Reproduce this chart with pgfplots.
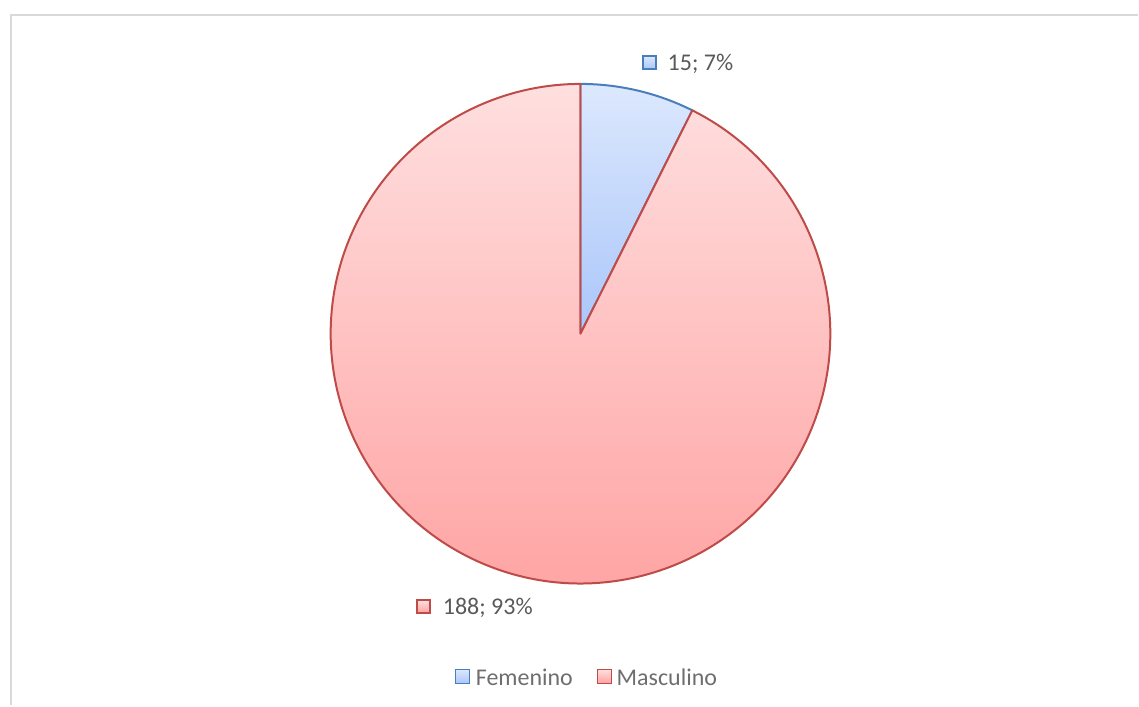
\documentclass[border=0pt]{standalone}
\usepackage{pgfplots}
\pgfplotsset{compat=1.18}
\usepackage{pgfplotstable}
\usepackage{fontspec}
\setmainfont{Carlito}

\definecolor{femline}{HTML}{4A7EBB}
\definecolor{femtop}{HTML}{DCE8FD}
\definecolor{femmid}{HTML}{AAC6FA}
\definecolor{masline}{HTML}{BE4B48}
\definecolor{mastop}{HTML}{FFDFDF}
\definecolor{masbot}{HTML}{FFA1A1}
\definecolor{txt}{HTML}{595959}
\definecolor{legtxt}{HTML}{6E6E6E}
\definecolor{frame}{HTML}{D9D9D9}

\begin{document}
\begin{tikzpicture}
% datos: genero y cantidad
\pgfplotstableread{
genero cantidad
Femenino 15
Masculino 188
}\datos
\pgfplotstablegetelem{0}{cantidad}\of\datos \let\nF\pgfplotsretval
\pgfplotstablegetelem{1}{cantidad}\of\datos \let\nM\pgfplotsretval
\pgfmathsetmacro\total{\nF+\nM}
\pgfmathsetmacro\angSplit{90-360*(\nF/\total)}
\pgfmathtruncatemacro\pF{round(100*(\nF/\total))}
\pgfmathtruncatemacro\pM{round(100*(\nM/\total))}
\def\R{187.5pt}% 250 px

\begin{axis}[
    x=0.75pt, y=0.75pt,
    xmin=0, xmax=1139, ymin=0, ymax=706,
    hide axis,
    clip=false,
    font=\fontsize{18}{22}\selectfont,
]
\path (axis cs:0,0) rectangle (axis cs:1139,706);
% marco
\draw[frame, line width=1.5pt] (axis cs:11,0) -- (axis cs:11,691) -- (axis cs:1139,691);

% sectores
\shadedraw[top color=femtop, bottom color=femmid, draw=femline, line width=1.5pt, line join=round]
  (axis cs:581,372) -- ++(90:\R) arc[start angle=90, end angle=\angSplit, radius=\R] -- cycle;
\shadedraw[top color=mastop, bottom color=masbot, draw=masline, line width=1.5pt, line join=round]
  (axis cs:581,372) -- ++(\angSplit:\R) arc[start angle=\angSplit, end angle=-270, radius=\R] -- cycle;

% etiquetas de datos
\shadedraw[top color=femtop, bottom color=femmid, draw=femline, line width=1.2pt]
  (axis cs:643.5,637) rectangle (axis cs:656.5,650);
\node[anchor=west, text=txt, inner sep=0pt] at (axis cs:668,642) {\nF; \pF\%};
\shadedraw[top color=mastop, bottom color=masbot, draw=masline, line width=1.2pt]
  (axis cs:417.5,92.5) rectangle (axis cs:430.5,105.5);
\node[anchor=west, text=txt, inner sep=0pt] at (axis cs:443,98) {\nM; \pM\%};

% leyenda
\shadedraw[top color=femtop, bottom color=femmid, draw=femline, line width=1.2pt]
  (axis cs:456,22) rectangle (axis cs:470,36);
\node[anchor=west, text=legtxt, inner sep=0pt] at (axis cs:476,28) {Femenino};
\shadedraw[top color=mastop, bottom color=masbot, draw=masline, line width=1.2pt]
  (axis cs:598,22) rectangle (axis cs:612,36);
\node[anchor=west, text=legtxt, inner sep=0pt] at (axis cs:617,28) {Masculino};
\end{axis}
\end{tikzpicture}
\end{document}
